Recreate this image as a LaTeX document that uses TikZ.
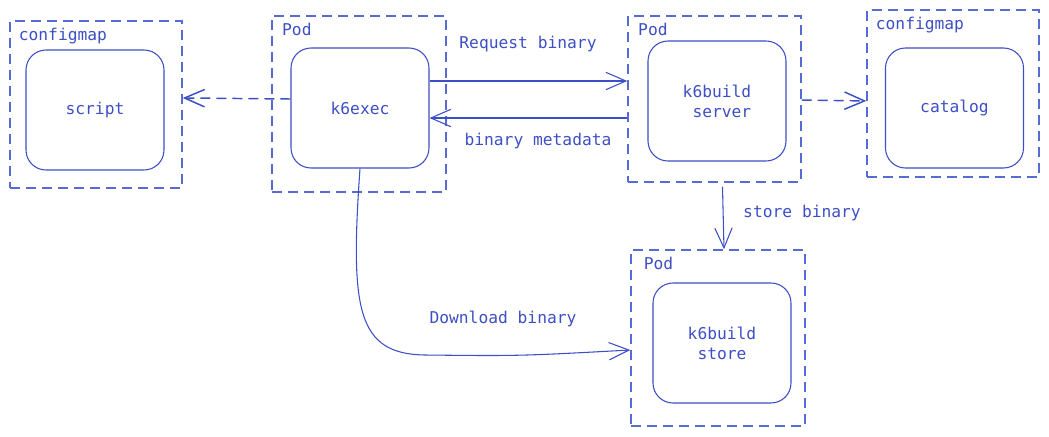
\documentclass[tikz,border=0pt]{standalone}
\usepackage{fontspec}
\setmonofont{DejaVu Sans Mono}
\usetikzlibrary{arrows.meta}
\definecolor{k6ink}{RGB}{61, 79, 196}
\definecolor{k6dash}{RGB}{88, 106, 214}

\begin{document}
\begin{tikzpicture}[x=0.75pt, y=-0.75pt,
  font=\ttfamily\fontsize{12.2}{15}\selectfont, text=k6ink,
  groupbox/.style={draw=k6dash, line width=1.1pt, dash pattern=on 7.5pt off 4.5pt, inner sep=0pt},
  appbox/.style={draw=k6ink, line width=0.8pt, rounded corners=15pt, minimum width=103.5pt, minimum height=90pt, align=center},
  boxlabel/.style={anchor=base west, inner sep=0pt},
  flow/.style={draw=k6ink, line width=0.8pt, -{Straight Barb[length=15pt, width=13pt]}},
  dashflow/.style={flow, line width=1.1pt, dash pattern=on 7.5pt off 4.5pt}]
\useasboundingbox (0,0) rectangle (1049,436);

% groups
\node[groupbox, minimum width=129pt, minimum height=125.25pt] (cmscript) at (96,104.5) {};
\node[groupbox, minimum width=130.5pt, minimum height=132pt] (podexec) at (359,104) {};
\node[groupbox, minimum width=129.75pt, minimum height=124.5pt] (podserver) at (714.5,99) {};
\node[groupbox, minimum width=129pt, minimum height=125.25pt] (cmcatalog) at (953,93.5) {};
\node[groupbox, minimum width=130.5pt, minimum height=132pt] (podstore) at (718,338) {};

\node[boxlabel] (cmscriptlbl) at ([xshift=7pt, yshift=-15pt]cmscript.north west) {configmap};
\node[boxlabel] (podexeclbl) at ([xshift=8pt, yshift=-15pt]podexec.north west) {Pod};
\node[boxlabel] (podserverlbl) at ([xshift=8pt, yshift=-15pt]podserver.north west) {Pod};
\node[boxlabel] (cmcataloglbl) at ([xshift=7pt, yshift=-15pt]cmcatalog.north west) {configmap};
\node[boxlabel] (podstorelbl) at ([xshift=10pt, yshift=-15pt]podstore.north west) {Pod};

% apps
\node[appbox] (script) at (95,110) {script};
\node[appbox] (k6exec) at (360,108) {k6exec};
\node[appbox, align=left] (server) at (717,101) {k6build\\\hphantom{s}server};
\node[appbox] (catalog) at (954.5,108) {catalog};
\node[appbox] (store) at (722,343) {k6build\\store};

% connectors
\draw[dashflow] ([yshift=6.75pt]k6exec.west) -- ([yshift=4.9pt]cmscript.east);
\draw[flow] ([yshift=20.25pt]k6exec.east) -- ([yshift=13.5pt]podserver.west);
\draw[flow] ([yshift=-14.25pt]podserver.west) -- ([yshift=-7.5pt]k6exec.east);
\draw[dashflow] ([yshift=-0.75pt]podserver.east) -- ([yshift=-5.6pt]cmcatalog.west);
\draw[flow] ([xshift=6pt, yshift=-3pt]podserver.south) -- ([xshift=4.5pt]podstore.north);
\coordinate (dlbend) at (425,355);
\draw[flow] (k6exec.south) .. controls (350,310) and (357,354) .. (dlbend)
  .. controls (520,356) .. ([yshift=-9pt]podstore.west);

\node (reqlbl) at (528,44) {Request binary};
\node (metalbl) at (538,141) {binary metadata};
\node (storelbl) at (802,213) {store binary};
\node (dllbl) at (503,319) {Download binary};
\end{tikzpicture}
\end{document}
